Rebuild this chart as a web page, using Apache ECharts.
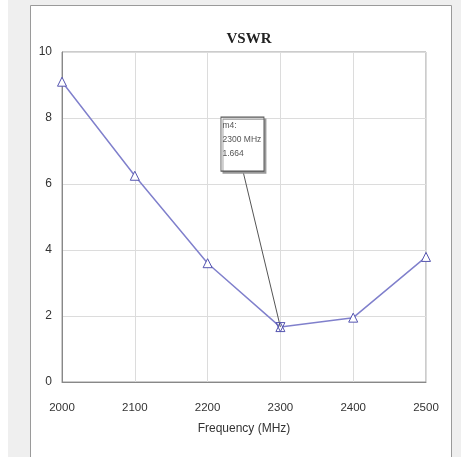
<!DOCTYPE html>
<html><head><meta charset="utf-8">
<script src="https://cdn.jsdelivr.net/npm/echarts@6/dist/echarts.min.js"></script>
<style>html,body{margin:0;padding:0;background:#fff}#c{width:461px;height:457px}</style>
</head><body><div id="c"></div>
<script>
const frequencies = [2000, 2100, 2200, 2300, 2400, 2500];
const vswr = [9.1, 6.25, 3.6, 1.664, 1.95, 3.79];
const xTicks = [2000, 2100, 2200, 2300, 2400, 2500];
const yTicks = [0, 2, 4, 6, 8, 10];
const markerFreq = 2300;
const markerVal = 1.664;
const markerText = ['m4:', '2300 MHz', '1.664'];
const sans = "'Liberation Sans',Arial,sans-serif";

const chart = echarts.init(document.getElementById('c'));
chart.setOption({
  animation: false,
  backgroundColor: '#fff',
  graphic: [
    {type:'rect', shape:{x:8,y:0,width:453,height:457}, style:{fill:'#efefef'}, z:-10, silent:true},
    {type:'rect', shape:{x:30.5,y:5.5,width:421,height:460}, style:{fill:'#fff',stroke:'#9a9a9a',lineWidth:1}, z:-9, silent:true}
  ],
  title: {
    text: 'VSWR', left: 244, top: 27, textAlign: 'center',
    textStyle: {fontFamily: "'Liberation Serif','Times New Roman',serif", fontWeight: 'bold', fontSize: 15, color: '#222'}
  },
  grid: {left: 62, right: 35, top: 52, bottom: 75, show: true, borderColor: '#999', borderWidth: 1, backgroundColor: '#fff'},
  xAxis: {
    type: 'value', min: xTicks[0], max: xTicks[xTicks.length-1], interval: 100,
    name: 'Frequency (MHz)', nameLocation: 'middle', nameGap: 41,
    nameTextStyle: {fontFamily: sans, fontSize: 12, color: '#333'},
    axisLine: {lineStyle: {color: '#888'}}, axisTick: {show: false},
    axisLabel: {margin: 20, fontFamily: sans, fontSize: 11.5, color: '#333', formatter: v => String(v)},
    splitLine: {lineStyle: {color: '#dcdcdc'}}
  },
  yAxis: {
    type: 'value', min: yTicks[0], max: yTicks[yTicks.length-1], interval: 2,
    axisLine: {show: true, lineStyle: {color: '#888'}}, axisTick: {show: false},
    axisLabel: {margin: 10, fontFamily: sans, fontSize: 12, color: '#333'},
    splitLine: {lineStyle: {color: '#dcdcdc'}}
  },
  series: [{
    type: 'line',
    data: frequencies.map((f, i) => [f, vswr[i]]),
    symbol: 'triangle', symbolSize: 9, showSymbol: true,
    lineStyle: {color: '#8080cc', width: 1.5},
    itemStyle: {color: '#fff', borderColor: '#5555b0', borderWidth: 1},
    markLine: {
      silent: true, symbol: 'none', label: {show: false},
      lineStyle: {color: '#555', width: 1, type: 'solid'},
      data: [[{coord: [markerFreq, markerVal]}, {coord: [2248.6, 6.39]}]]
    },
    markPoint: {
      silent: true,
      data: [
        {coord: [markerFreq, markerVal], symbol: 'triangle', symbolRotate: 180, symbolSize: 9,
         itemStyle: {color: 'rgba(0,0,0,0)', borderColor: '#5555b0', borderWidth: 1}, label: {show: false}},
        {coord: [2247.9, 7.21], symbol: 'rect', symbolSize: [43, 54],
         itemStyle: {color: '#fff', borderColor: '#555', borderWidth: 1, shadowColor: '#999', shadowOffsetX: 2, shadowOffsetY: 2, shadowBlur: 0},
         label: {show: true, position: 'insideTopLeft', distance: 2, formatter: markerText.join('\n'),
                 fontFamily: sans, fontSize: 8.5, lineHeight: 14, color: '#555', align: 'left'}}
      ]
    }
  }]
});
</script></body></html>
